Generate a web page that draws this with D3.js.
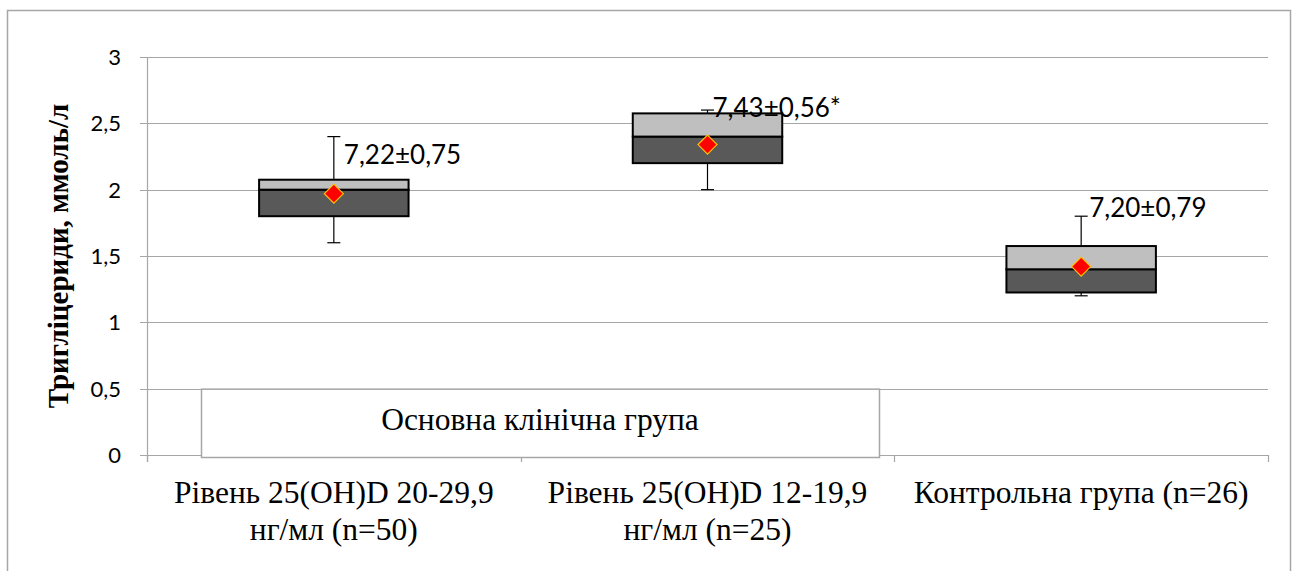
<!DOCTYPE html>
<html>
<head>
<meta charset="utf-8">
<script src="https://cdn.jsdelivr.net/npm/d3@7"></script>
<style>
  body { margin: 0; background: #fff; }
</style>
</head>
<body>
<div id="chart"></div>
<script>
// Box chart: triglycerides by vitamin D level

const groups = ["g1", "g2", "g3"];
const groupLabels = [
    ["Рівень 25(OH)D 20-29,9", "нг/мл (n=50)"],
    ["Рівень 25(OH)D 12-19,9", "нг/мл (n=25)"],
    ["Контрольна група (n=26)"]
];
const q1 = [1.8, 2.2, 1.225];
const medians = [2.0, 2.4, 1.4];
const q3 = [2.075, 2.575, 1.575];
const whiskLow = [1.6, 2.0, 1.2];
const whiskHigh = [2.4, 2.6, 1.8];
const means = [1.97, 2.34, 1.42];
const valueLabels = ["7,22±0,75", "7,43±0,56*", "7,20±0,79"];
const yTicks = [0, 0.5, 1, 1.5, 2, 2.5, 3];

// label placement (pixels from whisker top), like Excel put them
const labelDx = [10, 5, 8];
const labelDy = [27, 7, 1];

const width = 1298,
    height = 571,
    margin = {top: 57, right: 30, bottom: 116, left: 147};

const serif = "'Liberation Serif', 'Times New Roman', serif";
const sans = "Lato, 'Open Sans', sans-serif";

const svg = d3.select("#chart")
    .append("svg")
    .attr("width", width)
    .attr("height", height);

// outer frame (no bottom edge visible)
svg.append("path")
    .attr("d", "M7.5,571 V10.5 H1290.5 V571")
    .attr("fill", "none")
    .attr("stroke", "#a6a6a6")
    .attr("stroke-width", 1.5);

const x = d3.scaleBand()
    .domain(groups)
    .range([margin.left, 1268]);

const y = d3.scaleLinear()
    .domain([0, 3])
    .range([455, margin.top]);

const fmt = d => String(d).replace(".", ",");

// grid lines
svg.append("g")
    .attr("stroke", "#a6a6a6")
    .attr("stroke-width", 1.2)
    .selectAll("line")
    .data(yTicks)
    .join("line")
    .attr("x1", margin.left - 7)
    .attr("x2", 1268)
    .attr("y1", d => Math.round(y(d)) + 0.5)
    .attr("y2", d => Math.round(y(d)) + 0.5);

// y axis line
svg.append("line")
    .attr("x1", margin.left + 0.5)
    .attr("x2", margin.left + 0.5)
    .attr("y1", y(3))
    .attr("y2", y(0) + 7)
    .attr("stroke", "#a6a6a6")
    .attr("stroke-width", 1.2);

// x category ticks
const xTickPos = groups.map(g => x(g)).concat([x.range()[1]]);
svg.append("g")
    .attr("stroke", "#a6a6a6")
    .attr("stroke-width", 1.2)
    .selectAll("line")
    .data(xTickPos)
    .join("line")
    .attr("x1", d => Math.round(d) + 0.5)
    .attr("x2", d => Math.round(d) + 0.5)
    .attr("y1", y(0))
    .attr("y2", y(0) + 7);

// y tick labels
svg.append("g")
    .attr("font-family", sans)
    .attr("font-size", 22)
    .attr("text-anchor", "end")
    .selectAll("text")
    .data(yTicks)
    .join("text")
    .attr("x", 121)
    .attr("y", d => y(d))
    .attr("dy", "0.36em")
    .text(fmt);

// y title
svg.append("text")
    .attr("transform", `translate(68,${(y(0) + y(3)) / 2}) rotate(-90)`)
    .attr("text-anchor", "middle")
    .attr("font-family", serif)
    .attr("font-weight", "bold")
    .attr("font-size", 29)
    .text("Тригліцериди, ммоль/л");

// "main clinical group" label box
svg.append("rect")
    .attr("x", 201.5)
    .attr("y", y(0.5) + 0.5)
    .attr("width", 678)
    .attr("height", y(0) - y(0.5) + 2)
    .attr("fill", "#fff")
    .attr("stroke", "#a6a6a6")
    .attr("stroke-width", 1.5);

svg.append("text")
    .attr("x", 540)
    .attr("y", 430)
    .attr("text-anchor", "middle")
    .attr("font-family", serif)
    .attr("font-size", 31.5)
    .text("Основна клінічна група");

// x labels
const xl = svg.append("g")
    .attr("font-family", serif)
    .attr("font-size", 31.5)
    .attr("text-anchor", "middle")
    .selectAll("text")
    .data(groups)
    .join("text")
    .attr("x", d => x(d) + x.bandwidth() / 2)
    .attr("y", 503);

xl.selectAll("tspan")
    .data((d, i) => groupLabels[i])
    .join("tspan")
    .attr("x", function() { return this.parentNode.getAttribute("x"); })
    .attr("dy", (d, i) => i ? 37 : 0)
    .text(d => d);

const boxW = x.bandwidth() * 0.4;
const cx = i => x(groups[i]) + x.bandwidth() / 2;

const boxes = svg.append("g")
    .selectAll("g")
    .data(groups)
    .join("g");

// whiskers
boxes.append("line")
    .attr("x1", (d, i) => cx(i))
    .attr("x2", (d, i) => cx(i))
    .attr("y1", (d, i) => y(whiskLow[i]))
    .attr("y2", (d, i) => y(whiskHigh[i]))
    .attr("stroke", "#000")
    .attr("stroke-width", 1.2);

boxes.each(function(d, i) {
    const g = d3.select(this);
    [whiskLow[i], whiskHigh[i]].forEach(v => {
        g.append("line")
            .attr("x1", cx(i) - 6.5)
            .attr("x2", cx(i) + 6.5)
            .attr("y1", y(v))
            .attr("y2", y(v))
            .attr("stroke", "#000")
            .attr("stroke-width", 1.2);
    });
});

// lower box part (q1 - median)
boxes.append("rect")
    .attr("x", (d, i) => cx(i) - boxW / 2)
    .attr("y", (d, i) => y(medians[i]))
    .attr("width", boxW)
    .attr("height", (d, i) => y(q1[i]) - y(medians[i]))
    .attr("fill", "#595959")
    .attr("stroke", "#000")
    .attr("stroke-width", 2);

// upper box part (median - q3)
boxes.append("rect")
    .attr("x", (d, i) => cx(i) - boxW / 2)
    .attr("y", (d, i) => y(q3[i]))
    .attr("width", boxW)
    .attr("height", (d, i) => y(medians[i]) - y(q3[i]))
    .attr("fill", "#bfbfbf")
    .attr("stroke", "#000")
    .attr("stroke-width", 2);

// mean markers
boxes.append("path")
    .attr("d", d3.symbol().type(d3.symbolDiamond2).size(230))
    .attr("transform", (d, i) => `translate(${cx(i)},${y(means[i])})`)
    .attr("fill", "#ff0000")
    .attr("stroke", "#ffc000")
    .attr("stroke-width", 1.2);

// value labels
boxes.append("text")
    .attr("x", (d, i) => cx(i) + labelDx[i])
    .attr("y", (d, i) => y(whiskHigh[i]) + labelDy[i])
    .attr("font-family", sans)
    .attr("font-size", 26)
    .text((d, i) => valueLabels[i]);
</script>
</body>
</html>
